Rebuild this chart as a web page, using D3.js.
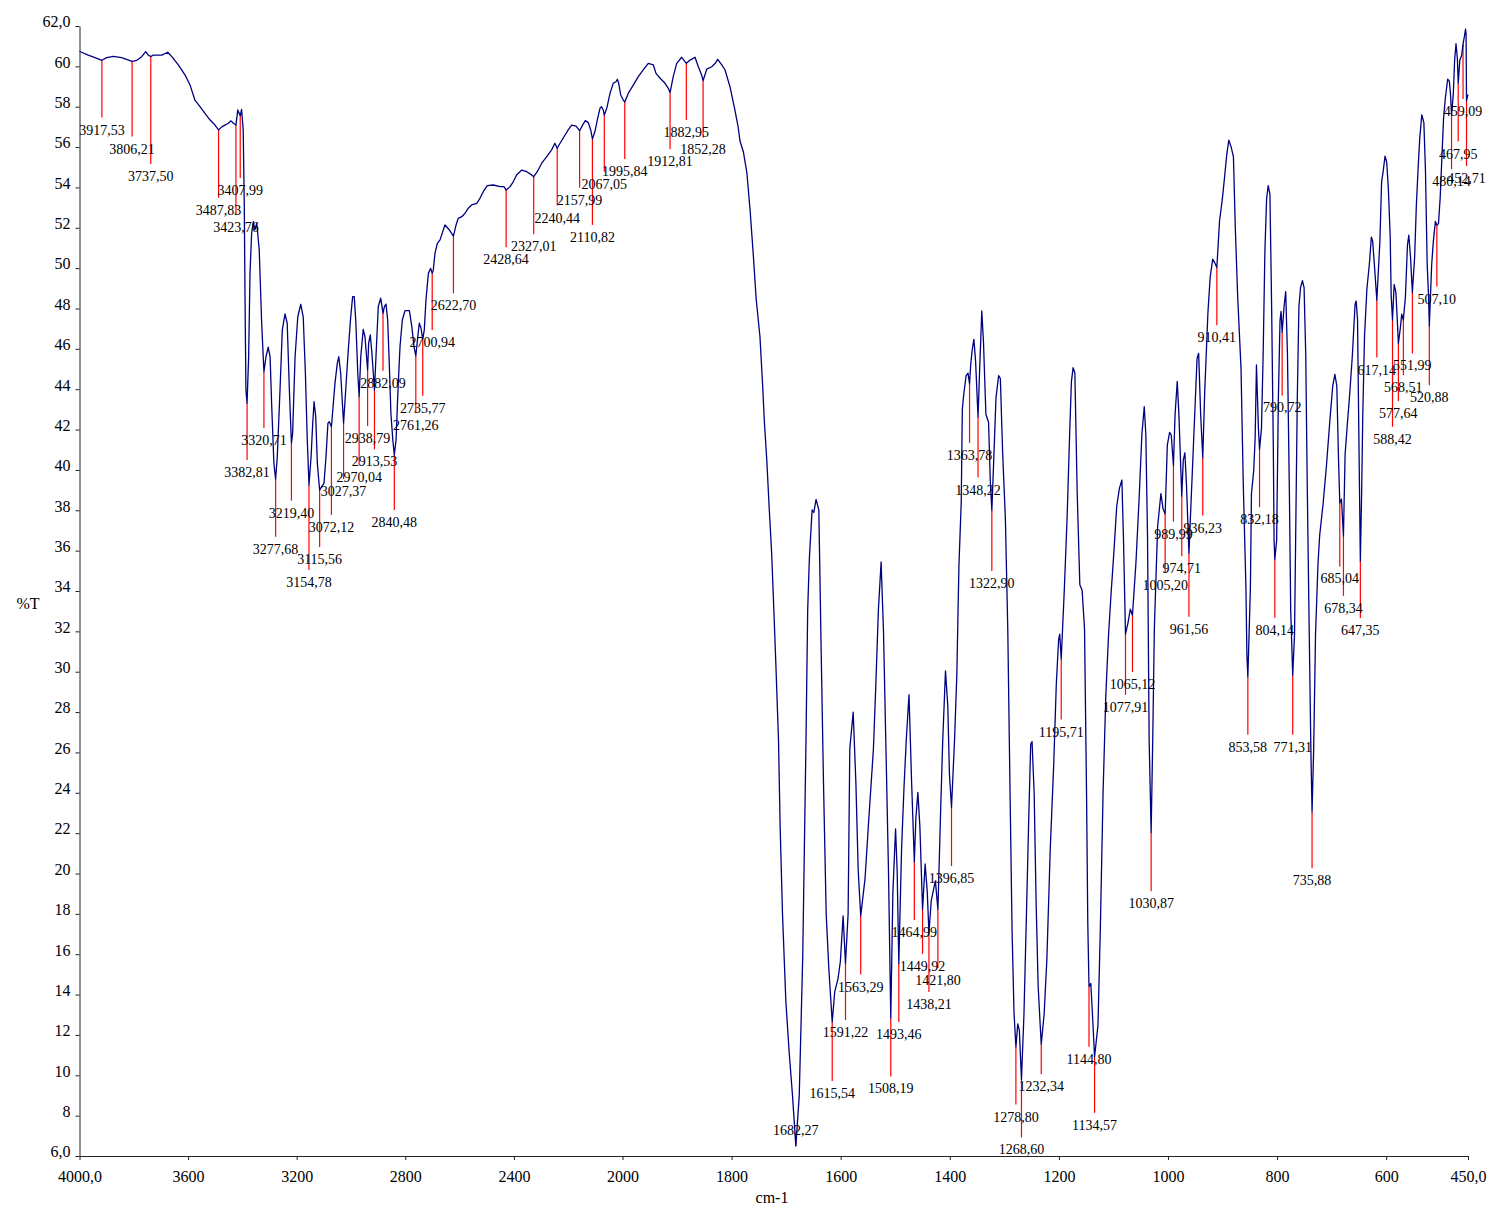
<!DOCTYPE html>
<html>
<head>
<meta charset="utf-8">
<script src="https://cdn.jsdelivr.net/npm/d3@7"></script>
<style>
  body { margin: 0; background: #fff; }
  text { font-family: "Liberation Serif", "Times New Roman", serif; }
</style>
</head>
<body>
<svg id="chart" width="1493" height="1208"></svg>
<script>
// IR spectrum: wavenumber (cm-1) and transmittance (%T)
const wavenumber = [
  4000, 3992, 3968, 3943, 3917.53, 3900, 3875, 3845, 3806.21, 3789,
  3771, 3756, 3747, 3737.5, 3728, 3697, 3675, 3660, 3636, 3611,
  3593, 3575, 3556, 3538, 3519, 3501, 3487.83, 3476, 3464, 3452,
  3442, 3433, 3423.76, 3417, 3407.99, 3403, 3397, 3393, 3390.6, 3387,
  3382.81, 3377, 3372, 3366, 3360, 3354, 3347, 3338, 3329, 3320.71,
  3313, 3305, 3298, 3292, 3284, 3277.68, 3271.5, 3261.5, 3253, 3243,
  3235, 3227, 3219.4, 3215, 3206, 3196, 3185, 3176, 3168, 3161,
  3154.78, 3147, 3141, 3136, 3130, 3124, 3115.56, 3108, 3099.5, 3092,
  3085, 3080, 3072.12, 3067, 3059, 3050.5, 3045, 3038, 3031, 3027.37,
  3019.5, 3010, 3001, 2994, 2988, 2982, 2975, 2970.04, 2964, 2955,
  2948.5, 2938.79, 2935, 2929, 2923, 2913.53, 2908, 2899.5, 2890.6, 2882.09,
  2877, 2871, 2865, 2859, 2853, 2846, 2840.48, 2834, 2828, 2819.5,
  2811, 2801, 2785, 2776, 2768, 2761.26, 2754, 2748.5, 2742, 2735.77,
  2730, 2724, 2715, 2706.5, 2700.94, 2697, 2690.6, 2682, 2672, 2662,
  2654, 2638, 2622.7, 2613, 2605, 2592, 2580, 2568, 2555.5, 2537,
  2525, 2513, 2498, 2476, 2451, 2436.5, 2428.64, 2414, 2402, 2390,
  2371, 2353, 2334.5, 2327.01, 2314, 2297.6, 2279, 2261, 2249, 2240.44,
  2230, 2215.5, 2200, 2187, 2171, 2157.99, 2147, 2137, 2126, 2117,
  2110.82, 2101.5, 2093, 2083, 2077, 2071, 2067.05, 2058, 2046, 2034,
  2024, 2019, 2014, 2006.6, 1998.5, 1995.84, 1989.4, 1980, 1971, 1962,
  1952.7, 1943.5, 1938.6, 1931, 1922, 1916, 1912.81, 1907, 1900.6, 1891.5,
  1882.95, 1876, 1867, 1861, 1855, 1852.28, 1845.6, 1836.5, 1830, 1825.5,
  1818, 1812, 1803, 1794, 1788, 1784.6, 1778.5, 1772, 1766, 1760,
  1755, 1748, 1743, 1740, 1735.6, 1731, 1726.5, 1722, 1719, 1714,
  1711, 1706.7, 1700.6, 1694.4, 1688.3, 1682.27, 1676, 1669.6, 1663.6, 1660.5,
  1657.4, 1652.4, 1649.3, 1645.1, 1640.1, 1635.7, 1631.5, 1626.6, 1621.6, 1615.54,
  1611, 1605, 1600.6, 1595.6, 1591.22, 1586.4, 1583.3, 1577.1, 1572.1, 1567.9,
  1563.29, 1555.4, 1549.4, 1540, 1535.8, 1530.9, 1525.9, 1521.5, 1516.5, 1512.4,
  1508.19, 1504.3, 1499.4, 1496.5, 1493.46, 1488.4, 1484, 1479.8, 1474.8, 1469.9,
  1464.99, 1462.2, 1458.5, 1454.8, 1449.92, 1445.2, 1441.3, 1438.21, 1434, 1426.4,
  1421.8, 1416.5, 1412.9, 1407.9, 1403.7, 1400.6, 1396.85, 1391.3, 1387.1, 1383.3,
  1379, 1377, 1374, 1370, 1366.6, 1363.78, 1361.7, 1359, 1355.8, 1352.7,
  1348.22, 1345, 1341.3, 1338.2, 1333.8, 1328.9, 1325.8, 1322.9, 1319.7, 1315.3,
  1310.4, 1307.3, 1303.1, 1298.1, 1293.7, 1289.5, 1285.8, 1282.2, 1278.8, 1275.4,
  1272.5, 1268.6, 1264, 1259, 1255.4, 1251.7, 1249.2, 1245.3, 1241.7, 1238,
  1234.3, 1232.34, 1227, 1222, 1215.8, 1209.6, 1204.7, 1200.5, 1198.5, 1195.71,
  1190.1, 1185, 1180.1, 1177, 1173.9, 1170.7, 1166.5, 1161.6, 1157.4, 1153,
  1149.3, 1147, 1144.8, 1141.5, 1138.5, 1134.57, 1128.3, 1124, 1119, 1114,
  1109, 1104.5, 1099, 1094, 1089, 1084.5, 1081.5, 1077.91, 1073.5, 1069,
  1065.12, 1058.7, 1052.7, 1047.9, 1043.5, 1040.6, 1037.5, 1034.5, 1030.87, 1028,
  1025, 1019, 1013, 1009, 1005.2, 1001.2, 997, 994, 989.99, 987,
  983, 980, 974.71, 972, 969, 966, 961.56, 958.5, 954.5, 951,
  946.7, 943.8, 940.1, 936.23, 932.8, 926.8, 922.6, 918, 914.5, 910.41,
  905.5, 900.6, 896.3, 892.2, 888.5, 884.3, 880, 876.4, 872.2, 866.1,
  861.9, 857.1, 855.3, 853.58, 848.9, 847, 842.8, 840.2, 837.8, 834.2,
  832.18, 828.6, 825.5, 822.3, 819.2, 816.3, 813.1, 810, 806.9, 805.5,
  804.14, 800.8, 797.7, 794.6, 792.7, 790.72, 787.2, 784.2, 781, 777.4,
  775, 771.31, 768, 766, 763, 760, 757, 753.5, 750.5, 747.5,
  744.5, 741, 738, 735.88, 733, 729.5, 725, 722, 715.5, 709.5,
  703, 698, 694, 690.5, 687.5, 685.04, 682, 678.34, 675.3, 671,
  667, 662, 657, 655, 652.5, 650.5, 647.35, 645, 642.9, 639.7,
  635.3, 630.9, 627.2, 624.8, 621.6, 617.14, 614.5, 611.5, 608.4, 605.2,
  602.1, 599, 595.9, 592.6, 590.8, 588.42, 585.4, 582.2, 579.6, 577.64,
  574, 571.5, 568.51, 564.7, 561, 558.5, 555.4, 551.99, 547.8, 544.7,
  541.6, 538.5, 534.7, 530.9, 528, 524.8, 522.3, 520.88, 516.6, 513.5,
  509.8, 507.1, 504.1, 501, 497.9, 494.8, 491.7, 487.3, 484.2, 482,
  480.14, 477, 474.5, 472, 469.5, 467.95, 465, 461.7, 459.09, 456.5,
  454.5, 453.5, 452.71, 450
];

const transmittance = [
  60.75, 60.70, 60.56, 60.43, 60.30, 60.43, 60.50, 60.43, 60.25, 60.30,
  60.48, 60.73, 60.56, 60.48, 60.56, 60.56, 60.70, 60.48, 60.07, 59.57,
  59.08, 58.33, 58.00, 57.67, 57.34, 57.09, 56.85, 57.00, 57.09, 57.18,
  57.30, 57.18, 57.09, 57.84, 57.55, 57.87, 56.84, 53.05, 48.92, 43.96,
  43.30, 45.61, 49.74, 51.73, 52.30, 51.90, 52.22, 50.90, 47.27, 44.87,
  45.61, 46.08, 45.61, 43.14, 40.33, 39.54, 40.66, 43.96, 46.94, 47.73,
  47.27, 43.96, 41.32, 41.81, 45.61, 47.59, 48.21, 47.59, 44.79, 41.49,
  39.25, 40.66, 42.31, 43.38, 42.64, 40.33, 39.00, 39.17, 39.33, 40.66,
  42.31, 42.39, 42.14, 42.97, 44.30, 45.28, 45.61, 44.79, 43.14, 42.31,
  43.96, 45.94, 47.59, 48.59, 48.59, 47.27, 44.79, 43.63, 45.61, 46.97,
  46.60, 44.95, 46.28, 46.69, 45.78, 43.96, 45.61, 48.10, 48.51, 47.76,
  48.09, 48.22, 47.43, 45.28, 42.80, 41.49, 40.74, 41.49, 43.63, 46.11,
  47.43, 47.89, 47.89, 47.10, 46.11, 45.65, 46.60, 47.27, 47.02, 46.47,
  46.94, 48.40, 49.74, 49.99, 49.74, 49.90, 50.74, 51.23, 51.40, 51.81,
  52.14, 51.90, 51.59, 52.14, 52.47, 52.55, 52.72, 52.97, 53.13, 53.21,
  53.46, 53.79, 54.09, 54.12, 54.04, 54.04, 53.87, 54.04, 54.29, 54.62,
  54.86, 54.78, 54.62, 54.53, 54.78, 55.20, 55.53, 55.86, 56.19, 55.94,
  56.19, 56.51, 56.85, 57.09, 57.04, 56.81, 57.09, 57.31, 57.21, 56.85,
  56.40, 56.77, 57.34, 57.92, 58.00, 57.84, 57.59, 57.92, 58.66, 59.16,
  59.24, 59.36, 59.16, 58.58, 58.33, 58.23, 58.66, 59.08, 59.49, 59.82,
  60.15, 60.07, 59.65, 59.41, 59.16, 58.91, 58.70, 59.49, 60.15, 60.45,
  60.15, 60.31, 60.45, 59.98, 59.57, 59.29, 59.86, 59.98, 60.15, 60.35,
  60.07, 59.82, 58.99, 57.84, 57.00, 56.30, 55.77, 54.73, 52.84, 50.57,
  48.49, 46.60, 44.14, 42.44, 40.54, 38.09, 35.84, 32.66, 30.48, 26.62,
  22.31, 18.00, 13.70, 11.12, 8.98, 6.50, 8.98, 15.87, 26.62, 33.06,
  35.64, 38.02, 37.89, 38.54, 38.02, 30.90, 24.45, 18.00, 15.22, 12.64,
  14.13, 14.78, 15.64, 17.90, 15.53, 18.00, 26.18, 28.00, 24.45, 20.15,
  17.90, 19.73, 22.31, 26.18, 29.20, 33.06, 35.44, 31.97, 25.53, 20.15,
  12.84, 19.09, 22.21, 20.15, 15.53, 21.23, 24.24, 26.62, 28.86, 24.45,
  20.58, 22.73, 24.02, 22.31, 18.22, 20.47, 19.09, 17.05, 18.65, 19.63,
  18.22, 23.40, 26.62, 30.04, 28.32, 24.88, 23.27, 26.62, 29.84, 35.20,
  38.43, 43.03, 43.85, 44.67, 44.80, 44.26, 45.20, 45.93, 46.47, 45.38,
  42.62, 45.20, 47.88, 46.30, 42.76, 42.35, 39.48, 37.99, 40.30, 43.58,
  44.67, 44.53, 40.85, 37.58, 32.13, 23.95, 17.13, 13.05, 11.41, 12.55,
  12.23, 9.78, 13.05, 18.50, 22.59, 26.40, 26.54, 23.95, 18.50, 14.41,
  12.50, 11.54, 13.05, 15.77, 21.23, 25.32, 29.40, 31.58, 31.86, 30.63,
  34.04, 37.58, 41.94, 44.39, 45.07, 44.80, 38.94, 34.31, 34.04, 32.13,
  23.95, 17.50, 14.41, 14.55, 13.05, 10.92, 12.50, 17.30, 24.00, 28.80,
  31.80, 33.80, 36.00, 38.20, 39.10, 39.50, 36.50, 31.86, 32.40, 33.10,
  32.80, 35.42, 38.70, 41.74, 43.13, 41.74, 36.68, 26.57, 22.03, 26.57,
  32.13, 37.19, 38.83, 38.07, 37.82, 41.23, 41.86, 41.73, 40.22, 42.75,
  44.39, 42.75, 38.70, 40.47, 40.85, 39.20, 35.86, 37.89, 40.47, 42.75,
  45.53, 45.78, 42.75, 40.60, 43.76, 47.79, 49.57, 50.45, 50.28, 50.03,
  52.35, 53.36, 54.50, 55.64, 56.34, 56.01, 55.51, 51.85, 48.56, 45.02,
  39.21, 34.16, 30.80, 29.74, 34.18, 38.82, 39.98, 41.60, 45.20, 42.06,
  41.02, 42.06, 45.78, 50.88, 53.43, 54.09, 53.67, 48.10, 41.14, 36.50,
  35.57, 36.50, 43.46, 47.40, 47.86, 46.82, 48.10, 48.84, 45.78, 38.82,
  33.00, 29.82, 31.86, 36.50, 43.46, 48.10, 49.03, 49.38, 49.03, 45.78,
  38.82, 31.86, 26.06, 23.05, 26.06, 31.86, 35.34, 36.73, 38.36, 40.21,
  42.53, 44.16, 44.74, 44.16, 40.68, 38.36, 38.55, 36.73, 40.78, 42.34,
  43.71, 45.67, 48.21, 48.37, 47.43, 42.73, 35.49, 38.82, 42.73, 46.64,
  48.99, 50.17, 51.54, 51.34, 50.17, 48.41, 49.77, 51.34, 54.27, 54.86,
  55.55, 55.25, 53.88, 51.54, 48.60, 47.43, 49.19, 48.80, 47.43, 46.26,
  47.04, 47.72, 47.43, 48.60, 51.14, 51.63, 50.56, 48.80, 50.56, 53.10,
  54.86, 56.42, 57.60, 57.21, 54.86, 50.17, 48.60, 47.13, 50.17, 51.34,
  52.32, 52.12, 52.22, 53.49, 55.45, 57.41, 58.38, 59.36, 59.26, 58.60,
  57.60, 58.60, 60.30, 61.12, 60.40, 59.17, 60.30, 60.54, 61.10, 61.50,
  61.85, 61.60, 58.30, 58.60
];

// Picked peaks (cm-1)
const peakWavenumbers = [
  3917.53, 3806.21, 3737.50, 3487.83, 3423.76, 3407.99, 3382.81, 3320.71, 3277.68, 3219.40,
  3154.78, 3115.56, 3072.12, 3027.37, 2970.04, 2938.79, 2913.53, 2882.09, 2840.48, 2761.26,
  2735.77, 2700.94, 2622.70, 2428.64, 2327.01, 2240.44, 2157.99, 2110.82, 2067.05, 1995.84,
  1912.81, 1882.95, 1852.28, 1682.27, 1615.54, 1591.22, 1563.29, 1508.19, 1493.46, 1464.99,
  1449.92, 1438.21, 1421.80, 1396.85, 1363.78, 1348.22, 1322.90, 1278.80, 1268.60, 1232.34,
  1195.71, 1144.80, 1134.57, 1077.91, 1065.12, 1030.87, 1005.20, 989.99, 974.71, 961.56,
  936.23, 910.41, 853.58, 832.18, 804.14, 790.72, 771.31, 735.88, 685.04, 678.34,
  647.35, 617.14, 588.42, 577.64, 568.51, 551.99, 520.88, 507.10, 480.14, 467.95,
  459.09, 452.71
];

// Leader layout: %T level where each peak's red marker line stops
const leaderEnd = [
  57.46, 56.52, 55.16, 53.49, 52.63, 54.47, 40.49, 42.08, 36.69, 38.48,
  35.04, 36.18, 37.77, 39.55, 40.25, 42.18, 41.02, 44.92, 38.02, 42.84,
  43.67, 46.94, 48.75, 51.03, 51.68, 53.10, 53.99, 52.14, 54.78, 55.41,
  55.89, 57.34, 56.48, 6.90, 9.72, 12.74, 14.99, 9.94, 12.64, 17.70,
  16.02, 14.13, 15.32, 20.37, 41.34, 39.62, 34.99, 8.55, 6.92, 10.05,
  27.63, 11.41, 8.14, 28.85, 29.99, 19.12, 34.91, 37.44, 35.72, 32.72,
  37.74, 47.17, 26.88, 38.15, 32.67, 43.69, 26.87, 20.26, 35.22, 33.76,
  32.66, 45.57, 42.14, 43.42, 44.69, 45.77, 44.20, 49.09, 54.90, 56.27,
  58.38, 55.06
];

const xTicks = [4000, 3600, 3200, 2800, 2400, 2000, 1800, 1600, 1400, 1200, 1000, 800, 600, 450];
const yTicks = d3.range(6, 63, 2);

const svg = d3.select("#chart");
svg.append("rect").attr("width", 1493).attr("height", 1208).attr("fill", "#fff");

// The x axis is expanded two-fold below 2000 cm-1
const x = d3.scaleLinear().domain([4000, 2000, 450]).range([79.5, 622.5, 1468]);
const y = d3.scaleLinear().domain([6, 62]).range([1156, 26]);

const comma = (v, d) => v.toFixed(d).replace(".", ",");

// Axes
const xAxis = svg.append("g")
  .attr("transform", `translate(0,${y(6)})`)
  .call(d3.axisBottom(x).tickValues(xTicks).tickSize(4).tickSizeOuter(0).tickPadding(11)
    .tickFormat(v => (v === 4000 || v === 450) ? comma(v, 1) : String(v)));

const yAxis = svg.append("g")
  .attr("transform", `translate(${x(4000)},0)`)
  .call(d3.axisLeft(y).tickValues(yTicks).tickSize(4).tickSizeOuter(0).tickPadding(5)
    .tickFormat(v => (v === 62 || v === 6) ? comma(v, 1) : String(v)));

[xAxis, yAxis].forEach(g => {
  g.selectAll("path, line").attr("stroke", "#222").attr("stroke-width", 1);
  g.selectAll("text").attr("fill", "#000").attr("font-size", 16)
    .attr("font-family", "Liberation Serif, Times New Roman, serif");
});
yAxis.selectAll("text").attr("dy", "0.05em");

svg.append("text").attr("x", 28).attr("y", 609).attr("text-anchor", "middle")
  .attr("font-size", 16).attr("fill", "#000").text("%T");
svg.append("text").attr("x", 772).attr("y", 1203).attr("text-anchor", "middle")
  .attr("font-size", 16).attr("fill", "#000").text("cm-1");

// Peak markers
const tAt = wn => transmittance[wavenumber.indexOf(wn)];
const peaks = peakWavenumbers.map((wn, i) => ({ wn, t: tAt(wn), end: leaderEnd[i] }));

const marks = svg.append("g");
marks.selectAll("line").data(peaks).join("line")
  .attr("x1", d => x(d.wn)).attr("x2", d => x(d.wn))
  .attr("y1", d => y(d.t)).attr("y2", d => y(d.end))
  .attr("stroke", "#ff0000").attr("stroke-width", 1.2);

// Spectrum trace
const series = wavenumber.map((wn, i) => [wn, transmittance[i]]);
svg.append("path").datum(series)
  .attr("fill", "none").attr("stroke", "#000080").attr("stroke-width", 1.3)
  .attr("stroke-linejoin", "round")
  .attr("d", d3.line().x(d => x(d[0])).y(d => y(d[1])));

// Peak labels: below the leader end, or above it when the leader points up
svg.append("g").selectAll("text").data(peaks).join("text")
  .attr("x", d => x(d.wn))
  .attr("y", d => d.end > d.t ? y(d.end) - 3 : y(d.end) + 17)
  .attr("text-anchor", "middle").attr("font-size", 14).attr("fill", "#000")
  .text(d => comma(d.wn, 2));
</script>
</body>
</html>
